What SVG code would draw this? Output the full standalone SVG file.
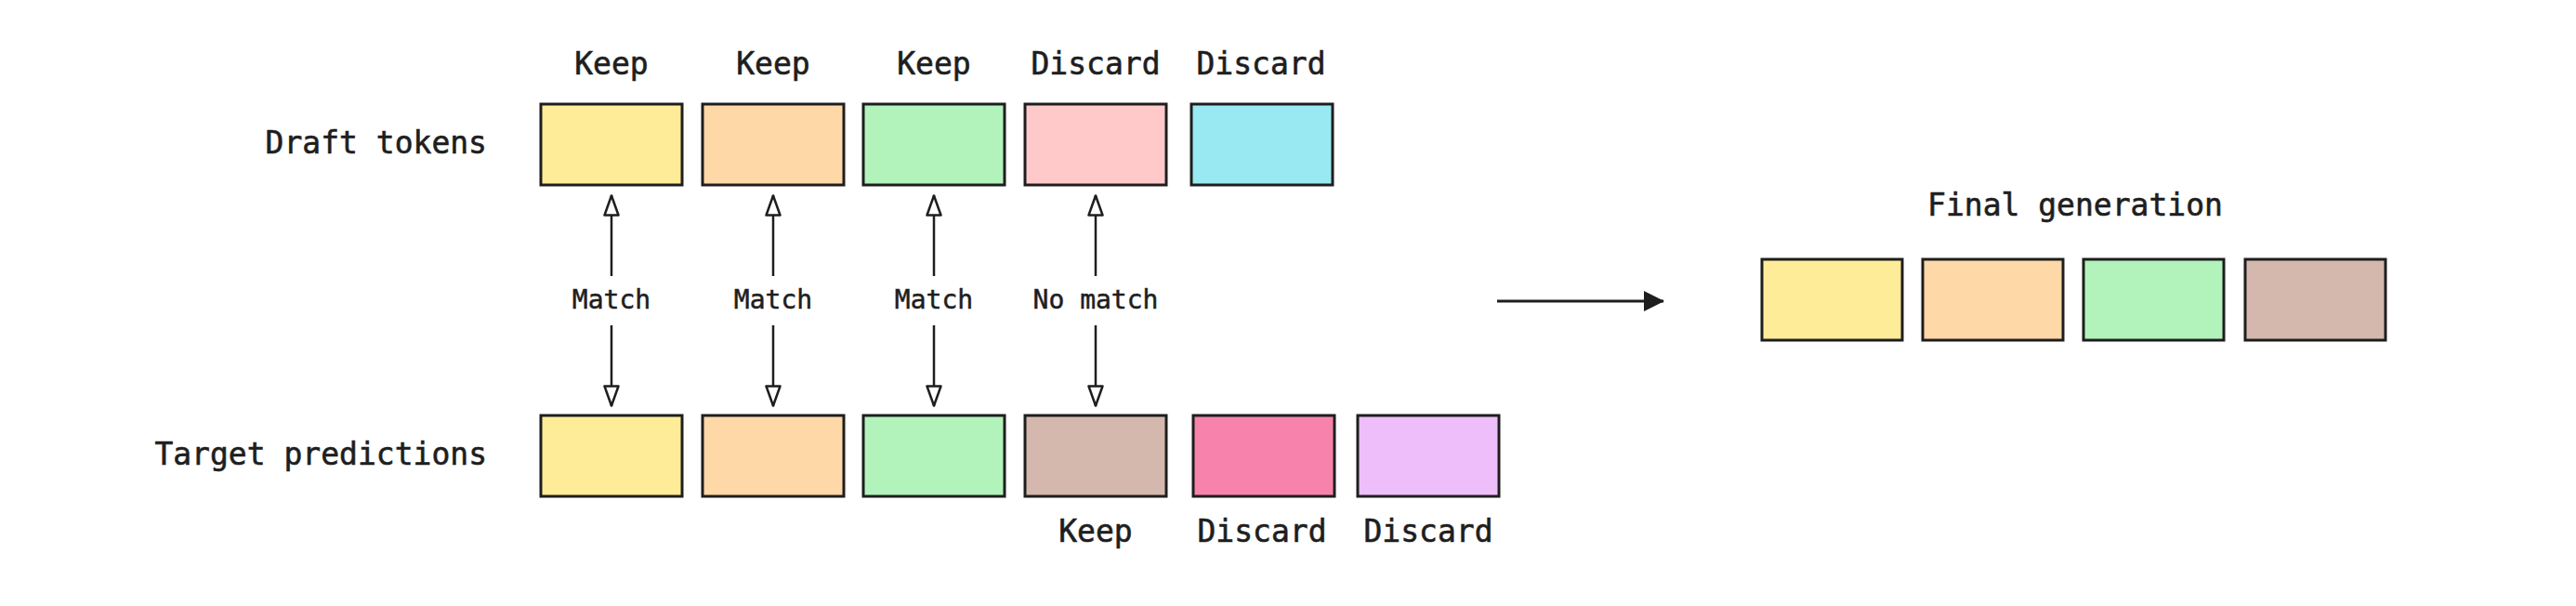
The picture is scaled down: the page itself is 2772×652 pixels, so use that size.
<svg xmlns="http://www.w3.org/2000/svg" width="2772" height="652" viewBox="0 0 2772 652">
<style>
.box{stroke:#1e1e1e;stroke-width:3}
.t{font-family:"DejaVu Sans Mono","Liberation Mono",monospace;font-size:33px;fill:#1e1e1e;stroke:#1e1e1e;stroke-width:0.6}
.s{font-family:"DejaVu Sans Mono","Liberation Mono",monospace;font-size:28px;fill:#1e1e1e;stroke:#1e1e1e;stroke-width:0.5;text-anchor:middle}
.c{text-anchor:middle}
.r{text-anchor:end}
.ln{stroke:#1e1e1e;stroke-width:2.5;fill:none}
</style>
<defs>
<marker id="open" markerUnits="userSpaceOnUse" viewBox="0 0 24 18" refX="23" refY="9" markerWidth="24" markerHeight="18" orient="auto">
<path d="M1.5,1.5 L22.5,9 L1.5,16.5 Z" fill="#ffffff" stroke="#1e1e1e" stroke-width="2.5" stroke-linejoin="round"/>
</marker>
<marker id="solid" markerUnits="userSpaceOnUse" viewBox="0 0 22 22" refX="21" refY="11" markerWidth="22" markerHeight="22" orient="auto">
<path d="M0,0 L22,11 L0,22 Z" fill="#1e1e1e"/>
</marker>
</defs>
<rect width="2772" height="652" fill="#ffffff"/>

<g id="row-labels">
<text class="t r" x="524" y="165">Draft tokens</text>
<text class="t r" x="524" y="500">Target predictions</text>
</g>

<g id="draft-tokens">
<g id="d1"><text class="t c" x="658" y="80">Keep</text><rect class="box" x="582" y="112" width="152" height="87" fill="#ffec99"/></g>
<g id="d2"><text class="t c" x="832" y="80">Keep</text><rect class="box" x="756" y="112" width="152" height="87" fill="#ffd8a8"/></g>
<g id="d3"><text class="t c" x="1005" y="80">Keep</text><rect class="box" x="929" y="112" width="152" height="87" fill="#b2f2bb"/></g>
<g id="d4"><text class="t c" x="1179" y="80">Discard</text><rect class="box" x="1103" y="112" width="152" height="87" fill="#ffc9c9"/></g>
<g id="d5"><text class="t c" x="1357" y="80">Discard</text><rect class="box" x="1282" y="112" width="152" height="87" fill="#99e9f2"/></g>
</g>

<g id="target-predictions">
<g id="p1"><rect class="box" x="582" y="447" width="152" height="87" fill="#ffec99"/></g>
<g id="p2"><rect class="box" x="756" y="447" width="152" height="87" fill="#ffd8a8"/></g>
<g id="p3"><rect class="box" x="929" y="447" width="152" height="87" fill="#b2f2bb"/></g>
<g id="p4"><rect class="box" x="1103" y="447" width="152" height="87" fill="#d4b8ae"/><text class="t c" x="1179" y="583">Keep</text></g>
<g id="p5"><rect class="box" x="1284" y="447" width="152" height="87" fill="#f783ac"/><text class="t c" x="1358" y="583">Discard</text></g>
<g id="p6"><rect class="box" x="1461" y="447" width="152" height="87" fill="#eebefa"/><text class="t c" x="1537" y="583">Discard</text></g>
</g>

<g id="final-generation">
<text class="t c" x="2233" y="232">Final generation</text>
<g id="f1"><rect class="box" x="1896" y="279" width="151" height="87" fill="#ffec99"/></g>
<g id="f2"><rect class="box" x="2069" y="279" width="151" height="87" fill="#ffd8a8"/></g>
<g id="f3"><rect class="box" x="2242" y="279" width="151" height="87" fill="#b2f2bb"/></g>
<g id="f4"><rect class="box" x="2416" y="279" width="151" height="87" fill="#d4b8ae"/></g>
</g>

<g id="connectors">
<line class="ln" x1="658" y1="297" x2="658" y2="210" marker-end="url(#open)"/>
<line class="ln" x1="658" y1="350" x2="658" y2="437" marker-end="url(#open)"/>
<text class="s" x="658" y="332">Match</text>
<line class="ln" x1="832" y1="297" x2="832" y2="210" marker-end="url(#open)"/>
<line class="ln" x1="832" y1="350" x2="832" y2="437" marker-end="url(#open)"/>
<text class="s" x="832" y="332">Match</text>
<line class="ln" x1="1005" y1="297" x2="1005" y2="210" marker-end="url(#open)"/>
<line class="ln" x1="1005" y1="350" x2="1005" y2="437" marker-end="url(#open)"/>
<text class="s" x="1005" y="332">Match</text>
<line class="ln" x1="1179" y1="297" x2="1179" y2="210" marker-end="url(#open)"/>
<line class="ln" x1="1179" y1="350" x2="1179" y2="437" marker-end="url(#open)"/>
<text class="s" x="1179" y="332">No match</text>
<line x1="1611" y1="324" x2="1790" y2="324" stroke="#1e1e1e" stroke-width="3" marker-end="url(#solid)"/>
</g>
</svg>
